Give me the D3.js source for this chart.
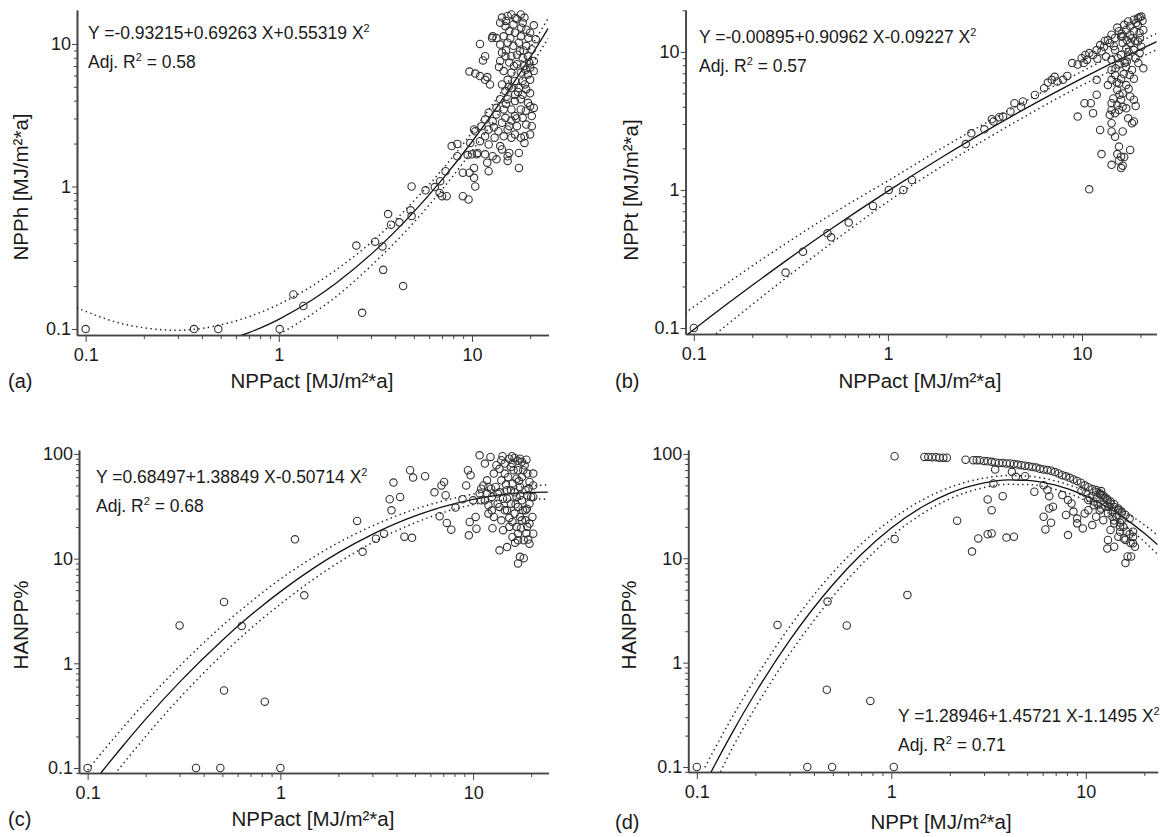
<!DOCTYPE html>
<html>
<head>
<meta charset="utf-8">
<script src="https://cdn.jsdelivr.net/npm/d3@7"></script>
<style>
  body { margin: 0; background: #fff; }
  svg text { font-family: "Liberation Sans", Arial, Helvetica, sans-serif; fill: #1a1a1a; }
</style>
</head>
<body>
<svg id="chart" width="1161" height="837"></svg>
<script>
// ---- panel (a): NPPact vs NPPh ----
const aPoints = [
  [0.1,0.1],[0.364,0.1],[0.486,0.1],[1.01,0.1],[1.19,0.175],[1.34,0.145],[2.52,0.385],[2.7,0.13],
  [3.15,0.41],[3.44,0.38],[3.47,0.26],[3.68,0.64],[3.81,0.54],[4.21,0.56],[4.4,0.2],[4.81,0.68],
  [4.87,0.62],[4.87,1.0],[5.75,0.94],[6.42,0.99],[6.8,0.9],[6.85,1.09],[7.0,0.855],[7.4,0.855],
  [7.3,1.28],[7.85,1.92],[8.4,1.99],[8.97,0.855],[9.6,0.81],[8.4,1.63],[8.97,1.25],[9.7,1.25],
  [9.5,1.66],[10.4,1.0],[10.25,1.15],[10.25,1.35],[10.6,1.68],[9.7,6.4],[10.4,6.2],[11.0,10.0],
  [11.4,7.66],[11.7,8.2],[12.0,5.85],[12.4,5.2],[12.7,11.0],[11.0,5.95],[11.7,5.6],[10.4,2.44],
  [10.25,2.51],[9.8,2.02],[10.7,1.72],[10.0,1.68],
  [14.3,15.3],[15.3,15.7],[16.0,16.1],[17.9,16.1],[18.7,15.3],[17.1,14.9],[14.0,14.1],[14.9,13.3],
  [16.4,13.7],[18.3,14.1],[19.1,12.6],[20.9,13.5],[15.6,12.3],[14.6,11.3],[13.4,11.0],[12.8,11.3],
  [16.7,12.0],[17.9,11.3],[20.0,12.0],[21.4,10.8],[14.0,9.9],[15.3,10.2],[16.4,9.7],[17.5,10.2],
  [19.1,9.7],[20.4,9.15],[14.3,8.7],[14.9,8.2],[16.0,8.2],[17.1,8.4],[18.3,8.0],[19.5,8.2],
  [20.9,7.6],[14.0,7.6],[15.6,7.4],[17.1,7.2],[18.7,7.0],[20.0,6.8],[14.6,6.45],[16.0,6.3],
  [17.9,6.3],[19.5,6.1],[20.9,6.45],[15.3,5.6],[16.7,5.5],[18.3,5.5],[20.0,5.6],[14.3,5.2],
  [16.0,4.9],[17.5,4.9],[19.1,4.8],[14.9,4.67],[16.7,4.4],[18.3,4.4],[20.0,4.5],[14.0,4.1],
  [15.3,4.1],[16.7,3.97],[17.9,4.1],[19.5,3.86],[20.9,3.56],[13.4,3.56],[14.6,3.47],[16.0,3.47],
  [17.9,3.47],[20.0,3.66],[12.2,3.29],[13.4,3.2],[14.9,3.03],[16.7,3.12],[18.3,3.03],[20.4,3.12],
  [11.7,2.95],[12.8,2.87],[14.3,2.8],[15.6,2.65],[17.1,2.65],[19.1,2.72],[20.4,2.65],[11.2,2.65],
  [12.2,2.51],[13.7,2.44],[15.3,2.51],[16.7,2.32],[18.7,2.25],[11.7,2.25],[13.1,2.2],[14.6,2.25],
  [16.0,2.2],[17.9,2.2],[20.0,2.32],[11.0,2.08],[12.2,1.97],[14.0,1.92],[11.7,1.68],[12.8,1.63],
  [14.3,1.82],[15.3,1.63],[12.0,1.47],[13.4,1.55],[12.2,1.28],[15.6,1.72],[15.3,1.51],[17.5,1.35],
  [17.5,1.72],[18.7,2.02],
  [15.0,14.5],[16.8,15.2],[18.0,13.0],[19.6,11.0],[15.0,9.0],[18.5,9.0],[16.5,7.0],[19.0,6.6],
  [15.5,5.0],[18.8,5.2],[17.3,4.6],[15.0,3.8],[19.0,3.4],[17.0,3.0],[13.0,2.6],[16.0,2.9],
  [19.8,7.4],[13.8,6.9],[15.8,11.0],[17.7,8.9]
];
const aFit = [[0.6,0.0874],[0.7,0.0942],[0.8,0.1014],[1,0.117],[1.5,0.161],[2,0.212],[3,0.334],[5,0.664],[7,1.118],[10,2.06],[15,4.44],[20,8.04],[24.8,12.87]];
const aUpper = [[0.09,0.141],[0.1,0.133],[0.15,0.11],[0.2,0.102],[0.3,0.098],[0.5,0.107],[0.7,0.122],[1,0.149],[1.5,0.202],[2,0.263],[3,0.404],[5,0.79],[7,1.31],[10,2.39],[15,5.16],[20,9.38],[24.8,15.1]];
const aLower = [[0.7,0.073],[1,0.0918],[1.5,0.1285],[2,0.1706],[3,0.277],[5,0.559],[7,0.951],[10,1.77],[15,3.83],[20,6.89],[24.8,10.95]];

// ---- panel (b): NPPact vs NPPt ----
const bPoints = [
  [0.1,0.1],[0.297,0.252],[0.365,0.357],[0.488,0.485],[0.51,0.454],[0.628,0.58],[0.838,0.766],[1.01,1.0],
  [1.2,1.0],[1.33,1.18],[2.52,2.15],[2.69,2.57],[3.14,2.75],[3.43,3.25],[3.5,3.13],[3.75,3.36],
  [3.92,3.4],[4.28,3.7],[4.49,4.25],[4.85,4.0],[4.96,4.37],[5.72,4.88],[6.38,5.45],[6.67,5.99],
  [6.98,6.27],[7.23,6.6],[7.46,6.1],[7.98,6.27],[8.4,6.7],[8.9,8.3],[9.5,8.1],[9.96,9.0],
  [10.2,8.3],[10.6,8.75],[10.9,9.8],[11.4,9.5],[11.9,10.3],[12.4,11.2],[13.0,10.9],[13.6,12.2],
  [13.9,11.6],[14.2,13.3],[14.8,12.6],[15.5,14.1],[15.9,12.9],[16.5,15.7],[16.9,14.4],[17.3,16.6],
  [17.7,15.3],[18.5,17.1],[19.4,17.5],[19.8,17.8],[20.2,18.0],[19.4,15.7],[18.5,14.1],[19.8,13.7],
  [20.7,14.4],[17.7,13.3],[16.2,11.6],[17.7,11.6],[19.4,11.9],[20.2,10.9],[16.9,10.6],[18.5,10.3],
  [19.8,9.8],[14.8,10.3],[15.9,9.5],[17.3,9.25],[18.9,9.0],[20.7,7.6],[14.2,8.75],[15.5,8.1],
  [16.9,7.8],[18.1,7.4],[14.2,7.4],[14.8,6.8],[15.9,6.4],[14.2,6.27],[15.5,5.9],[16.9,5.75],
  [18.5,6.4],[13.6,5.75],[15.2,5.3],[16.2,5.0],[17.7,4.75],[14.5,4.6],[15.9,4.5],[18.5,4.5],
  [18.9,4.05],[14.2,4.25],[15.2,4.1],[16.2,4.0],[14.2,3.8],[15.5,3.8],[16.9,3.9],[13.9,3.5],
  [14.8,3.6],[17.3,3.3],[18.1,3.04],[18.5,3.13],[14.2,3.04],[12.4,2.72],[14.2,2.65],[16.2,2.65],
  [14.8,2.43],[15.5,2.06],[17.7,1.95],[12.6,1.82],[15.2,1.82],[15.9,1.74],[16.5,1.73],[15.5,1.63],
  [14.2,1.52],[16.2,1.5],[15.9,1.44],[9.5,3.4],[10.3,4.25],[11.1,4.25],[11.4,3.6],[11.9,6.27],
  [11.9,4.9],[10.9,1.01],[10.4,9.5],[12.6,10.1],[13.3,9.25],[12.0,8.9],[13.1,12.0],[14.6,11.0],
  [16.0,13.5],[18.0,12.5],[19.0,16.2],[20.5,16.8],[17.0,8.5],[19.5,8.3],
  [15.2,15.0],[16.2,13.0],[17.0,12.2],[18.8,12.0],[19.9,12.6],[17.4,10.0],[15.3,9.0],[16.6,8.3],
  [14.9,7.6],[16.4,6.9],[17.6,6.8],[15.1,6.0],[17.4,5.4],[15.6,4.9]
];
const bFit = [[0.09,0.0868],[0.1,0.0975],[0.15,0.151],[0.2,0.204],[0.3,0.309],[0.5,0.512],[0.7,0.705],[1,0.98],[2,1.805],[3,2.535],[5,3.82],[10,6.43],[15,8.58],[20,10.43],[24.4,11.9]];
const bUpper = [[0.09,0.1285],[0.1,0.1427],[0.15,0.213],[0.2,0.282],[0.3,0.412],[0.5,0.652],[0.7,0.867],[1,1.164],[2,2.097],[3,2.91],[5,4.33],[10,7.22],[15,9.69],[20,11.9],[24.4,13.66]];
const bLower = [[0.1,0.0667],[0.15,0.107],[0.2,0.148],[0.3,0.232],[0.5,0.402],[0.7,0.573],[1,0.824],[2,1.554],[3,2.21],[5,3.36],[10,5.73],[15,7.59],[20,9.15],[24.4,10.4]];

// ---- panel (c): NPPact vs HANPP% ----
const cPoints = [
  [0.1,0.1],[0.3,2.3],[0.365,0.1],[0.488,0.1],[0.51,3.85],[0.51,0.55],[0.63,2.27],[0.83,0.43],
  [1.0,0.1],[1.19,15.3],[1.33,4.46],[2.5,22.9],[2.67,11.6],[3.13,15.5],[3.45,17.3],[3.69,36.9],
  [3.77,28.9],[3.86,53.2],[4.18,38.8],[4.4,16.2],[4.71,69.8],[4.82,15.8],[4.88,59.4],[5.63,61.2],
  [6.3,43],[6.7,25.4],[6.85,50],[7.07,53.9],[7.2,40.3],[7.3,21.9],[7.7,18.9],[8.1,30.7],
  [8.8,36.9],[9.2,50],[9.4,69.8],[9.5,16.7],[9.6,22.4],[9.7,62.6],[10,36],[10.3,25],
  [10.4,19.3],[10.8,97],[11.0,46.5],[11.5,80.9],[11.8,56],[12.0,32.3],[12.3,93.6],[12.5,38.8],
  [13.4,41.8],[13.7,12.0],[14.0,87],[14.6,64.9],[15.0,12.9],[15.4,90],[15.7,75.1],[16.4,91.5],
  [17.1,69.8],[17.5,90],[17.9,84],[18.5,77.9],[19.1,64.9],[19.6,54],[20.5,64.9],
  [10.8,41.8],[11.5,36.1],[12.0,26.9],[12.5,28.9],[13.1,48.4],[13.4,33.5],[14.0,23.2],[14.3,37.4],
  [14.6,28.9],[15.0,45],[15.4,20.1],[15.7,33.5],[16.0,52.1],[16.4,26.9],[16.8,38.8],[17.1,17.3],
  [17.1,31.2],[17.5,48.4],[17.9,23.2],[17.9,36.1],[18.3,15.0],[18.7,28.9],[18.7,45],[19.1,20.1],
  [19.6,33.5],[19.6,13.9],[20.0,38.8],[20.3,25.0],[20.5,17.3],[17.5,10.4],[18.3,10.1],[17.1,9.0],
  [17.1,15.0],[16.0,16.1],[14.0,56],[14.6,80.9],[16.0,80.9],[16.8,58],[17.9,60.3],[12.8,64.9],
  [13.7,72],[12.0,48.4],[11.3,50],[11.0,36.1],[11.8,41.8],[12.4,46.5],[13.7,43],[15.0,37.4],
  [15.7,45],[16.4,43],[17.5,40],[19.1,40],[12.8,25],[14.3,18.7],[16.0,22.4],[17.5,25],
  [18.7,23.2],[19.6,21.6],[16.8,20.1],[15.0,28.9],[13.7,31.2],[20.5,38.8],[20.5,50],
  [14.2,95],[15.9,95],[17.0,86],[18.9,88],[13.2,78],[16.2,70],[18.2,70],[15.2,60],
  [17.3,55],[14.8,51],[19.4,47],[16.6,33],[18.1,29],[19.0,30],[15.4,24.5],[17.7,19.5],
  [18.9,17.5],[16.5,14.2],[19.3,15.2],[12.6,19.5]
];
const cFit = [[0.1,0.0616],[0.12,0.0947],[0.15,0.157],[0.2,0.293],[0.3,0.661],[0.5,1.664],[0.7,2.87],[1,4.84],[1.5,8.2],[2,11.4],[3,17.06],[5,25.6],[7,31.3],[10,36.8],[15,41.4],[20,43.0],[24.4,43.2]];
const cUpper = [[0.1,0.0954],[0.12,0.1444],[0.15,0.235],[0.2,0.428],[0.3,0.938],[0.5,2.286],[0.7,3.85],[1,6.38],[1.5,10.44],[2,14.2],[3,20.5],[5,29.7],[7,35.6],[10,41.3],[15,46.9],[20,49.5],[24.4,50.5]];
const cLower = [[0.12,0.0622],[0.15,0.105],[0.2,0.2],[0.3,0.466],[0.5,1.211],[0.7,2.14],[1,3.67],[1.5,6.44],[2,9.16],[3,14.2],[5,22.0],[7,27.6],[10,32.8],[15,36.4],[20,37.2],[24.4,36.9]];

// ---- panel (d): NPPt vs HANPP% ----
const dPoints = [
  [0.1,0.1],[0.26,2.3],[0.37,0.1],[0.47,3.85],[0.466,0.55],[0.496,0.1],[0.59,2.27],[0.78,0.43],
  [1.03,0.1],[1.04,95],[1.04,15.3],[1.21,4.46],
  [1.48,93.6],[1.55,93.6],[1.62,93],[1.7,93],[1.77,92],[1.85,92],[1.93,92],[2.41,88],
  [2.64,87],[2.75,87],[2.85,87],[3.0,85.7],[3.13,85],[3.28,84],[3.42,82.7],[3.58,82],
  [3.74,82],[3.91,81],[4.08,81],[4.27,80],[4.46,79],[4.66,78],[4.87,77],[5.09,76],
  [5.32,75],[5.56,74],[5.81,72],[6.07,71],[6.35,70],[6.63,69],[6.93,67],[7.25,65],
  [7.57,62.5],[7.91,61],[8.27,59],[8.64,57],[9.03,55],[9.44,53],[9.87,50],[10.3,48],
  [10.8,46],[11.3,43],[11.8,41],[12.3,38],[12.9,36],[13.4,33.5],[14.0,31],[14.7,29],
  [15.3,27],[3.42,70.8],[4.17,67.3],[4.37,60.3],[4.87,61.2],[3.35,52.1],[2.18,22.9],[2.6,11.6],
  [2.8,15.5],[3.13,17.0],[3.28,17.3],[3.28,28.9],[3.13,36.6],[3.74,39.4],[3.91,15.8],[4.27,16.1],
  [5.44,43.4],[6.07,50.2],[6.35,45],[6.49,39.4],[6.07,25],[6.2,18.9],[6.49,30],[6.78,31.2],
  [6.63,21.9],[7.57,40.3],[7.91,26],[8.1,16.7],[8.1,36.1],[8.45,33.5],[8.64,28],[9.03,24],
  [9.03,21.6],[9.65,19.3],[9.87,26.9],[10.3,28.9],[10.3,36.1],[10.8,20.8],[11.0,32.3],[11.3,25],
  [11.8,28.9],[12.0,40.3],[12.3,23.2],[12.6,31.2],[12.9,12.4],[13.0,15],[13.4,18.7],[13.7,25],
  [14.0,12.9],[14.0,21.6],[14.7,28.9],[14.7,16.1],[15.0,20.1],[15.3,23.2],[15.7,15.5],[16.0,9.0],
  [16.4,10.4],[17.1,10.4],[17.5,18],[17.5,13.9],[17.9,12.9],
  [11.3,45],[11.8,42],[12.3,40],[12.9,37],[13.4,35],[14.0,33],[14.7,30],[15.3,28],
  [16.0,26],[16.8,24],[12.0,44],[12.6,38],[13.2,31],[13.8,28],[14.4,25],[15.0,22],
  [15.6,20],[16.2,18],[16.8,17],[17.5,16],[10.5,38],[11.0,35],[9.5,44],[10.0,42],
  [13.0,27],[14.0,23],[15.0,18],[16.0,15],[17.0,14],[12.0,30],[11.5,33]
];
const dFit = [[0.11,0.0686],[0.12,0.094],[0.15,0.2035],[0.2,0.512],[0.3,1.634],[0.5,5.58],[0.7,10.87],[1,19.5],[1.5,32.4],[2,42.1],[3,52.8],[4,56.3],[5,55.8],[7,50.1],[10,39.6],[15,25.9],[20,17.4],[23.4,13.5]];
const dUpper = [[0.11,0.0992],[0.12,0.135],[0.15,0.2874],[0.2,0.7066],[0.3,2.2],[0.5,7.27],[0.7,13.7],[1,23.4],[1.5,37.6],[2,47.8],[3,58.6],[4,62.0],[5,61.2],[7,55.0],[10,43.9],[15,29.7],[20,20.9],[23.4,16.6]];
const dLower = [[0.12,0.0613],[0.15,0.144],[0.2,0.371],[0.3,1.211],[0.5,4.28],[0.7,8.63],[1,16.2],[1.5,27.9],[2,37.1],[3,47.6],[4,51.1],[5,50.9],[7,45.7],[10,35.7],[15,22.6],[20,14.4],[23.4,10.9]];

const unitLabel = "[MJ/m²*a]";

const panels = [
  { tag: "(a)", points: aPoints, fit: aFit, upper: aUpper, lower: aLower,
    xDomain: [0.0902, 24.9], yDomain: [0.0908, 17.3], xRange: [77, 548.5], yRange: [335, 10],
    xTitle: "NPPact " + unitLabel, yTitle: "NPPh " + unitLabel,
    eq: "Y =-0.93215+0.69263 X+0.55319 X", r2: "0.58",
    eqX: 88, eqY: 39, tagX: 8, titleX: 312, titleY: 388, yTitleX: 28, yTitleY: 187 },
  { tag: "(b)", points: bPoints, fit: bFit, upper: bUpper, lower: bLower,
    xDomain: [0.0907, 24.2], yDomain: [0.0905, 20.1], xRange: [685.6, 1156.5], yRange: [334, 10],
    xTitle: "NPPact " + unitLabel, yTitle: "NPPt " + unitLabel,
    eq: "Y =-0.00895+0.90962 X-0.09227 X", r2: "0.57",
    eqX: 699, eqY: 43, tagX: 615, titleX: 920, titleY: 388, yTitleX: 638, yTitleY: 190 },
  { tag: "(c)", points: cPoints, fit: cFit, upper: cUpper, lower: cLower,
    xDomain: [0.0902, 24.6], yDomain: [0.0896, 109], xRange: [79, 548.5], yRange: [773, 450],
    xTitle: "NPPact " + unitLabel, yTitle: "HANPP%",
    eq: "Y =0.68497+1.38849 X-0.50714 X", r2: "0.68",
    eqX: 96, eqY: 483, tagX: 8, titleX: 313, titleY: 826, yTitleX: 28, yTitleY: 625 },
  { tag: "(d)", points: dPoints, fit: dFit, upper: dUpper, lower: dLower,
    xDomain: [0.0903, 23.4], yDomain: [0.0896, 109], xRange: [688.2, 1157.6], yRange: [772, 450],
    xTitle: "NPPt " + unitLabel, yTitle: "HANPP%",
    eq: "Y =1.28946+1.45721 X-1.1495 X", r2: "0.71",
    eqX: 898, eqY: 722, tagX: 615, titleX: 941, titleY: 829, yTitleX: 636, yTitleY: 625 }
];

const svg = d3.select("#chart");
const isMajor = v => Math.abs(Math.log10(v) - Math.round(Math.log10(v))) < 1e-6;
const fmt = d3.format("~g");

panels.forEach((p, i) => {
  const x = d3.scaleLog().domain(p.xDomain).range(p.xRange);
  const y = d3.scaleLog().domain(p.yDomain).range(p.yRange);
  const g = svg.append("g");

  const clipId = "clip" + i;
  svg.append("clipPath").attr("id", clipId)
    .append("rect")
    .attr("x", p.xRange[0]).attr("y", p.yRange[1])
    .attr("width", p.xRange[1] - p.xRange[0])
    .attr("height", p.yRange[0] - p.yRange[1]);

  // axes: minor ticks short, decades long + labelled
  const xt = x.ticks(), yt = y.ticks();
  const xa = g.append("g").attr("transform", `translate(0,${p.yRange[0]})`);
  xa.append("g").call(d3.axisBottom(x).tickValues(xt.filter(v => !isMajor(v))).tickSize(4).tickFormat("").tickSizeOuter(0));
  xa.append("g").call(d3.axisBottom(x).tickValues(xt.filter(isMajor)).tickSize(7).tickPadding(6).tickFormat(fmt).tickSizeOuter(0));
  const ya = g.append("g").attr("transform", `translate(${p.xRange[0]},0)`);
  ya.append("g").call(d3.axisLeft(y).tickValues(yt.filter(v => !isMajor(v))).tickSize(3).tickFormat("").tickSizeOuter(0));
  ya.append("g").call(d3.axisLeft(y).tickValues(yt.filter(isMajor)).tickSize(5).tickPadding(1).tickFormat(fmt).tickSizeOuter(0));
  g.selectAll(".domain").attr("stroke", "#444").attr("stroke-width", 1.6);
  g.selectAll(".tick line").attr("stroke", "#444").attr("stroke-width", 1);
  g.selectAll(".tick text").attr("fill", "#1a1a1a").style("font-size", "18px")
    .style("font-family", '"Liberation Sans", Arial, sans-serif');

  // regression curve and confidence band
  const line = d3.line().x(d => x(d[0])).y(d => y(d[1])).curve(d3.curveMonotoneX);
  const lines = g.append("g").attr("clip-path", `url(#${clipId})`);
  [p.upper, p.lower].forEach(b => {
    lines.append("path").datum(b).attr("d", line)
      .attr("fill", "none").attr("stroke", "#222").attr("stroke-width", 1.5)
      .attr("stroke-dasharray", "1.4,3.4");
  });
  lines.append("path").datum(p.fit).attr("d", line)
    .attr("fill", "none").attr("stroke", "#111").attr("stroke-width", 1.3);

  // data points
  g.append("g").selectAll("circle").data(p.points).join("circle")
    .attr("cx", d => x(d[0])).attr("cy", d => y(d[1])).attr("r", 3.7)
    .attr("fill", "none").attr("stroke", "#333").attr("stroke-width", 1.1);

  // equation text
  const eq = g.append("text").attr("x", p.eqX).attr("y", p.eqY).style("font-size", "17.5px");
  eq.append("tspan").text(p.eq);
  eq.append("tspan").attr("dy", -7).style("font-size", "11px").text("2");
  const r2 = g.append("text").attr("x", p.eqX).attr("y", p.eqY + 29).style("font-size", "17.5px");
  r2.append("tspan").text("Adj. R");
  r2.append("tspan").attr("dy", -7).style("font-size", "11px").text("2");
  r2.append("tspan").attr("dy", 7).text(" = " + p.r2);

  // titles
  g.append("text").attr("x", p.tagX).attr("y", p.titleY).style("font-size", "20px").text(p.tag);
  g.append("text").attr("x", p.titleX).attr("y", p.titleY).attr("text-anchor", "middle")
    .style("font-size", "20.5px").text(p.xTitle);
  g.append("text").attr("transform", `translate(${p.yTitleX},${p.yTitleY}) rotate(-90)`)
    .attr("text-anchor", "middle").style("font-size", "20.5px").text(p.yTitle);
});
</script>
</body>
</html>
